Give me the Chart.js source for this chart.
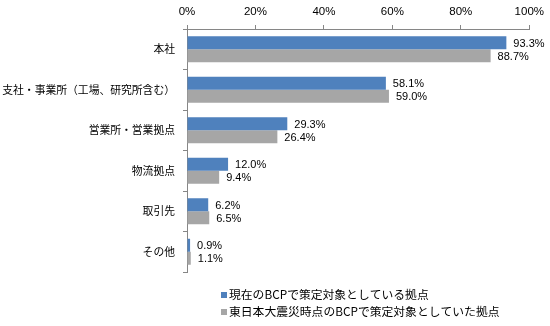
<!DOCTYPE html>
<html>
<head>
<meta charset="utf-8">
<script src="https://cdn.jsdelivr.net/npm/chart.js@4/dist/chart.umd.min.js"></script>
<style>
  html, body { margin: 0; padding: 0; background: #fff; }
  #wrap { width: 550px; height: 326px; }
</style>
</head>
<body>
<div id="wrap"><canvas id="bcpChart" width="550" height="326"></canvas></div>
<script>
'use strict';

var categories = ['本社', '支社・事業所（工場、研究所含む）', '営業所・営業拠点', '物流拠点', '取引先', 'その他'];
var currentBcp = [93.3, 58.1, 29.3, 12.0, 6.2, 0.9];
var at311 = [88.7, 59.0, 26.4, 9.4, 6.5, 1.1];
var seriesNames = ['現在のBCPで策定対象としている拠点', '東日本大震災時点のBCPで策定対象としていた拠点'];
var seriesColors = ['#4F81BD', '#A6A6A6'];
var axisTicks = [0, 20, 40, 60, 80, 100];

var jpFont = '"Noto Sans CJK JP", "Noto Sans", sans-serif';
var numFont = '"Liberation Sans", Arial, sans-serif';
var axisColor = '#868686';

// value labels to the right of each bar
var barValues = {
    id: 'barValues',
    afterDatasetsDraw: function (chart) {
        var ctx = chart.ctx;
        ctx.save();
        ctx.font = '11px ' + numFont;
        ctx.fillStyle = '#000';
        ctx.textAlign = 'left';
        ctx.textBaseline = 'middle';
        chart.data.datasets.forEach(function (ds, i) {
            chart.getDatasetMeta(i).data.forEach(function (bar, j) {
                ctx.fillText(ds.data[j].toFixed(1) + '%', bar.x + 7, bar.y + 1);
            });
        });
        ctx.restore();
    }
};

// stacked legend under the plot, square markers
var stackedLegend = {
    id: 'stackedLegend',
    afterDraw: function (chart) {
        var ctx = chart.ctx;
        var x = 221, y = 295;
        ctx.save();
        ctx.font = '11.8px ' + jpFont;
        ctx.textAlign = 'left';
        ctx.textBaseline = 'middle';
        chart.data.datasets.forEach(function (ds, i) {
            var yy = y + i * 17;
            ctx.fillStyle = ds.backgroundColor;
            ctx.fillRect(x, yy - 3, 6, 6);
            ctx.fillStyle = '#000';
            ctx.fillText(ds.label, x + 8, yy);
        });
        ctx.restore();
    }
};

var ctx = document.getElementById('bcpChart').getContext('2d');

new Chart(ctx, {
    type: 'bar',
    data: {
        labels: categories,
        datasets: [
            {
                label: seriesNames[0],
                data: currentBcp,
                backgroundColor: seriesColors[0],
                categoryPercentage: 0.64,
                barPercentage: 1.0
            },
            {
                label: seriesNames[1],
                data: at311,
                backgroundColor: seriesColors[1],
                categoryPercentage: 0.64,
                barPercentage: 1.0
            }
        ]
    },
    options: {
        indexAxis: 'y',
        responsive: false,
        animation: false,
        layout: { padding: { top: 0, left: 0, right: 20, bottom: 54 } },
        plugins: {
            legend: { display: false },
            tooltip: { enabled: false }
        },
        scales: {
            x: {
                position: 'top',
                min: 0,
                max: 100,
                afterFit: function (scale) { scale.height = 29; },
                afterBuildTicks: function (scale) {
                    scale.ticks = axisTicks.map(function (v) { return { value: v }; });
                },
                ticks: {
                    color: '#000',
                    font: { family: numFont, size: 11.5 },
                    padding: 6,
                    maxRotation: 0,
                    callback: function (v) { return v + '%'; }
                },
                grid: { drawOnChartArea: false, tickLength: 4, color: axisColor },
                border: { color: axisColor }
            },
            y: {
                afterFit: function (scale) { scale.width = 187; },
                ticks: {
                    color: '#000',
                    font: { family: jpFont, size: 10.8 },
                    padding: 8
                },
                grid: { offset: true, drawOnChartArea: false, tickLength: 4, color: axisColor },
                border: { color: axisColor }
            }
        }
    },
    plugins: [barValues, stackedLegend]
});
</script>
</body>
</html>
